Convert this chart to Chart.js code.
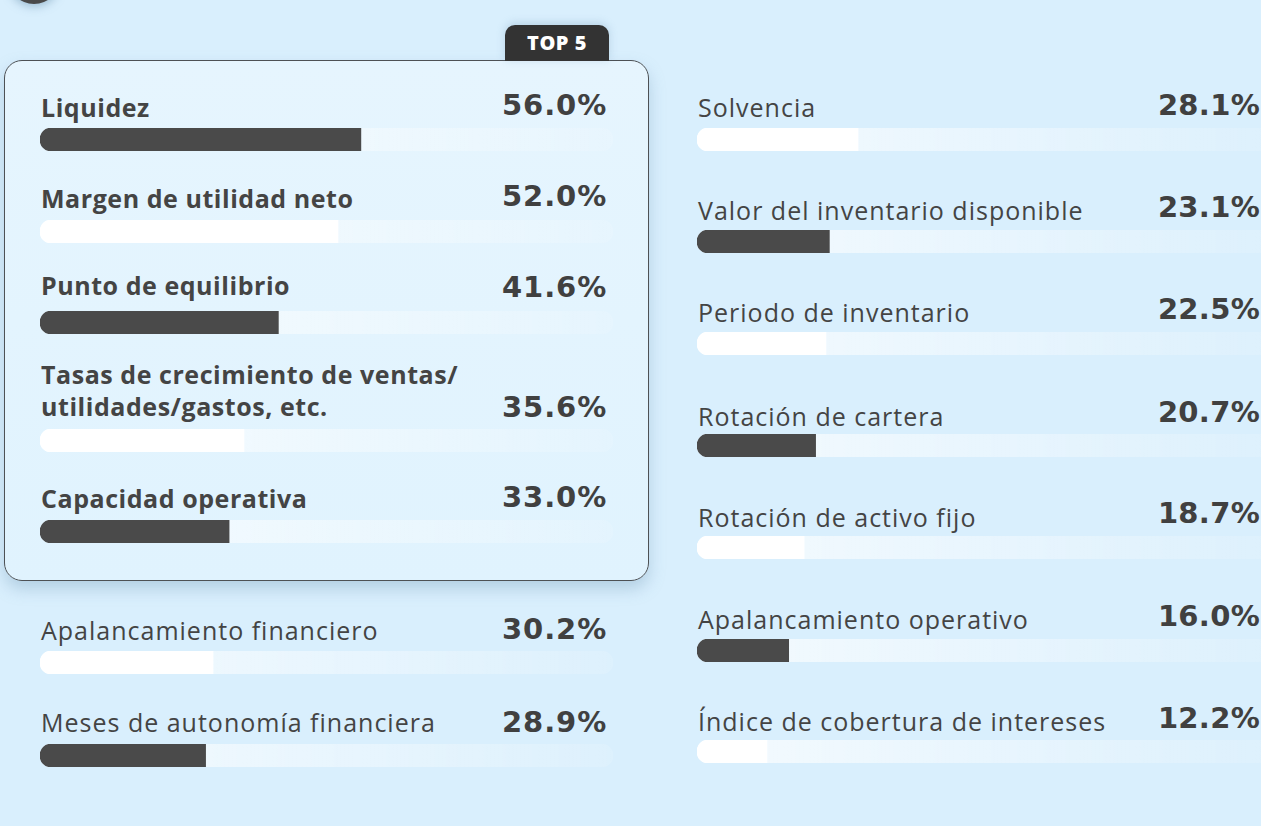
<!DOCTYPE html>
<html><head><meta charset="utf-8">
<script src="https://cdn.jsdelivr.net/npm/chart.js@4.4.1/dist/chart.umd.min.js"></script>
<style>
html,body{margin:0;padding:0;width:1261px;height:826px;overflow:hidden;background:#d9effd;font-family:"Open Sans","Noto Sans",sans-serif;color:#444;}
#stage{position:relative;width:1261px;height:826px;}
.box{position:absolute;left:4px;top:60px;width:643px;height:519px;border:1px solid #4d5155;border-radius:18px;background:linear-gradient(180deg,#e6f5fe,#e0f3fe);box-shadow:0 8px 16px rgba(110,150,180,0.35);}
.tab{position:absolute;left:505px;top:25px;width:104px;height:36px;background:#333;border-radius:10px 10px 0 0;color:#fff;font-weight:800;font-size:20px;line-height:36px;text-align:center;letter-spacing:0.5px;box-shadow:0 -2px 8px rgba(110,150,180,0.3);}
.dot{position:absolute;left:8px;top:-48px;width:52px;height:52px;border-radius:50%;background:#4a4a4a;box-shadow:0 3px 8px rgba(110,150,180,0.5);}
.lbl{position:absolute;font-size:25px;white-space:pre;line-height:32px;color:#444;letter-spacing:1.0px;}
.lbl.b{font-weight:700;letter-spacing:0.55px;}
.val{position:absolute;font-family:"DejaVu Sans",sans-serif;font-size:29px;font-weight:700;line-height:36px;color:#404040;white-space:pre;letter-spacing:0.9px;}
.bar{position:absolute;}
</style></head>
<body><div id="stage">
<div class="dot"></div>
<div class="box"></div>
<div class="tab">TOP 5</div>
</div>
<script>
// ---- data ----
const leftLabels = ["Liquidez", "Margen de utilidad neto", "Punto de equilibrio", "Tasas de crecimiento de ventas/\nutilidades/gastos, etc.", "Capacidad operativa", "Apalancamiento financiero", "Meses de autonomía financiera"];
const leftValues = [56.0, 52.0, 41.6, 35.6, 33.0, 30.2, 28.9];
const rightLabels = ["Solvencia", "Valor del inventario disponible", "Periodo de inventario", "Rotación de cartera", "Rotación de activo fijo", "Apalancamiento operativo", "Índice de cobertura de intereses"];
const rightValues = [28.1, 23.1, 22.5, 20.7, 18.7, 16.0, 12.2];
const topCount = 5;
const scaleMax = 100;

// ---- layout (positions only) ----
const cols = [
  {x: 40, valX: 502, valRight: null, w: 573,
   barTop: [128, 220, 311, 429, 520, 651, 744],
   labelC: [107, 198, 285, 390, 498, 630, 722],
   valC:   [105, 196, 287, 407, 497, 629, 722]},
  {x: 697, valX: null, valRight: 1260, w: 573,
   barTop: [128, 230, 332, 434, 536, 639, 740],
   labelC: [107, 210, 312, 416, 517, 619, 721],
   valC:   [105, 207, 309, 412, 513, 616, 718]}
];
const BAR_H = 23;
const stage = document.getElementById('stage');

function addItem(col, i, label, value, globalIndex, bold) {
  const lines = label.split('\n').length;
  const l = document.createElement('div');
  l.className = 'lbl' + (bold ? ' b' : '');
  l.textContent = label;
  l.style.left = (col.x + 1) + 'px';
  l.style.top = (col.labelC[i] - lines * 16) + 'px';
  stage.appendChild(l);

  const v = document.createElement('div');
  v.className = 'val';
  v.textContent = value.toFixed(1) + '%';
  if (col.valX !== null) v.style.left = col.valX + 'px';
  else { v.style.right = (1261 - col.valRight) + 'px'; v.style.textAlign = 'right'; v.style.letterSpacing = '0.3px'; }
  v.style.top = (col.valC[i] - 18) + 'px';
  stage.appendChild(v);

  const wrap = document.createElement('div');
  wrap.className = 'bar';
  wrap.style.left = col.x + 'px';
  wrap.style.top = col.barTop[i] + 'px';
  const cv = document.createElement('canvas');
  cv.width = col.w; cv.height = BAR_H;
  cv.style.width = col.w + 'px'; cv.style.height = BAR_H + 'px';
  wrap.appendChild(cv);
  stage.appendChild(wrap);

  const dark = globalIndex % 2 === 0;
  new Chart(cv, {
    type: 'bar',
    data: {
      labels: [label.replace('\n', ' ')],
      datasets: [
        {data: [value], backgroundColor: dark ? '#4a4a4a' : '#ffffff', borderWidth: 0,
         borderSkipped: false, borderRadius: {topLeft: 12, bottomLeft: 12, topRight: 0, bottomRight: 0},
         barPercentage: 1, categoryPercentage: 1, grouped: false},
        {data: [scaleMax], borderWidth: 0, borderSkipped: false, borderRadius: 12,
         barPercentage: 1, categoryPercentage: 1, grouped: false,
         backgroundColor: (ctx) => {
           const a = ctx.chart.chartArea;
           if (!a) return 'rgba(255,255,255,0.5)';
           const g = ctx.chart.ctx.createLinearGradient(a.left, 0, a.right, 0);
           g.addColorStop(0, 'rgba(255,255,255,0.72)');
           g.addColorStop(1, 'rgba(255,255,255,0.12)');
           return g;
         }}
      ]
    },
    options: {
      indexAxis: 'y', responsive: false, animation: false,
      layout: {padding: 0},
      plugins: {legend: {display: false}, tooltip: {enabled: false}},
      scales: {
        x: {display: false, min: 0, max: scaleMax},
        y: {display: false}
      }
    }
  });
}

let g = 0;
leftLabels.forEach((lab, i) => { addItem(cols[0], i, lab, leftValues[i], g++, i < topCount); });
rightLabels.forEach((lab, i) => { addItem(cols[1], i, lab, rightValues[i], g++, false); });
</script>
</body></html>
